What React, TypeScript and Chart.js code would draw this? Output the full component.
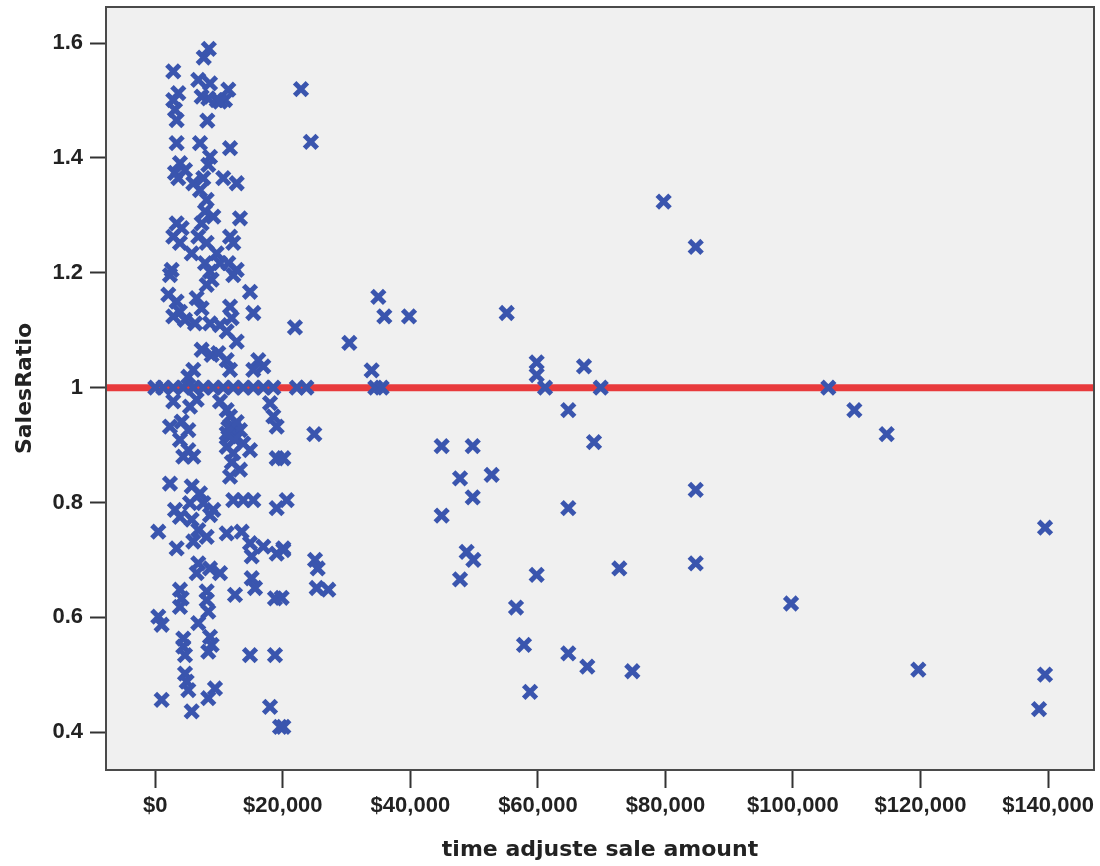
import React, { useEffect, useRef } from 'react';
import { Chart, registerables } from 'chart.js';

Chart.register(...registerables);

// time adjusted sale amount ($) for each sale
const saleAmount: number[] = [
  // sparse sales above $20,000
  22850, 24400, 21900, 30430, 34980, 35920, 39790, 33930, 34500, 35500,
  55110, 59810, 59810, 61120, 67230, 69850, 64770, 68800, 44910, 49780,
  47790, 52750, 49780, 44910, 64770, 24940, 48830, 49880, 47790, 59810,
  72770, 56570, 57820, 64770, 67750, 74810, 58770, 25050, 25470, 25310,
  27130, 79720, 84750, 105550, 109630, 114700, 84750, 139530, 84750, 99700,
  119660, 139530, 138590, 22200, 23700,
  // dense group, upper part
  7600, 8400, 2820, 3610, 2820, 3090, 3350, 6740, 8580, 7270,
  8310, 9630, 11450, 10930, 10150, 8160, 3350, 7010, 11720, 8580,
  8310, 3870, 4660, 3090, 3610, 5960, 7530, 7010, 10660, 12770,
  8060, 7800, 9100, 13280, 7270, 3350, 4140, 2820, 3870, 6740,
  8060, 11720, 12230, 9630, 5710, 10150, 7800, 11450, 2570, 8580, 12770,
  // dense group, middle part
  2300, 8840, 12230, 8060, 14850, 2040, 3350, 6490, 7270, 3870,
  4660, 2820, 6230, 8580, 11720, 11980, 15370, 10150, 11200, 12770,
  7270, 8840, 9880, 11200, 11720, 16150, 16940, 15370, 5960, 5180,
  0, 1250, 2820, 4390, 5960, 7530, 9100, 10660, 12230, 13800,
  15370, 16940, 18510,
  6490, 5440, 10150, 11200, 2820, 17990, 18510, 19040, 11720, 12230,
  11720, 11200, 13280, 13800, 12230, 14850, 2300, 4140, 5180, 3870,
  5180, 5960, 4390, 19040, 20080, 13280, 11720, 2300, 5710, 7010,
  5440, 7530, 3090, 9100, 12230, 13800, 15370, 19040, 20610,
  11450, 12500, 12000, 12770, 11200,
  // dense group, lower part
  470, 3870, 5710, 6740, 8580, 3350, 5960, 8060, 11200, 13550,
  14850, 16940, 19040, 20080, 15120, 6740, 6490, 8580, 10150, 15120,
  15640, 12500, 18770, 3870, 4140, 3870, 8060, 8060, 8310, 470,
  1000, 6740, 4390, 4390, 4660, 8580, 8840, 8310, 14850, 18770,
  4660, 4920, 5180, 9360, 8310, 1000, 5710, 17990, 19560, 20080,
  19820, 20080,
];

// sales ratio for each sale (same order)
const salesRatio: number[] = [
  1.520, 1.428, 1.105, 1.078, 1.158, 1.124, 1.124, 1.030, 1.000, 1.000,
  1.130, 1.044, 1.022, 1.000, 1.037, 1.000, 0.961, 0.905, 0.898, 0.898,
  0.842, 0.848, 0.809, 0.777, 0.790, 0.919, 0.714, 0.700, 0.666, 0.674,
  0.685, 0.617, 0.552, 0.537, 0.514, 0.506, 0.470, 0.700, 0.685, 0.651,
  0.648, 1.324, 1.245, 1.000, 0.961, 0.919, 0.822, 0.756, 0.694, 0.624,
  0.509, 0.500, 0.440, 1.000, 1.000,
  1.575, 1.590, 1.551, 1.513, 1.501, 1.484, 1.466, 1.536, 1.530, 1.507,
  1.504, 1.501, 1.519, 1.501, 1.498, 1.465, 1.426, 1.426, 1.417, 1.402,
  1.388, 1.391, 1.379, 1.374, 1.365, 1.356, 1.365, 1.344, 1.365, 1.356,
  1.327, 1.307, 1.298, 1.295, 1.286, 1.286, 1.278, 1.263, 1.252, 1.263,
  1.252, 1.263, 1.252, 1.234, 1.234, 1.217, 1.217, 1.217, 1.205, 1.202, 1.205,
  1.196, 1.188, 1.196, 1.179, 1.167, 1.162, 1.150, 1.156, 1.138, 1.132,
  1.118, 1.124, 1.112, 1.112, 1.141, 1.121, 1.130, 1.109, 1.098, 1.080,
  1.066, 1.057, 1.060, 1.048, 1.031, 1.048, 1.037, 1.031, 1.031, 1.019,
  1.000, 1.000, 1.000, 1.000, 1.000, 1.000, 1.000, 1.000, 1.000, 1.000,
  1.000, 1.000, 1.000,
  0.979, 0.967, 0.976, 0.961, 0.976, 0.973, 0.950, 0.932, 0.950, 0.932,
  0.915, 0.897, 0.926, 0.903, 0.886, 0.891, 0.932, 0.941, 0.926, 0.909,
  0.891, 0.880, 0.880, 0.877, 0.877, 0.857, 0.845, 0.833, 0.828, 0.816,
  0.799, 0.799, 0.787, 0.787, 0.804, 0.804, 0.804, 0.790, 0.804,
  0.930, 0.910, 0.870, 0.940, 0.920,
  0.749, 0.775, 0.770, 0.752, 0.778, 0.720, 0.732, 0.740, 0.746, 0.749,
  0.729, 0.723, 0.711, 0.720, 0.706, 0.694, 0.677, 0.685, 0.677, 0.668,
  0.651, 0.639, 0.633, 0.648, 0.633, 0.618, 0.645, 0.630, 0.610, 0.601,
  0.587, 0.590, 0.563, 0.549, 0.534, 0.566, 0.552, 0.540, 0.534, 0.534,
  0.502, 0.488, 0.473, 0.476, 0.459, 0.456, 0.436, 0.444, 0.409, 0.409,
  0.634, 0.717,
];

const xTickValues: number[] = [0, 20000, 40000, 60000, 80000, 100000, 120000, 140000];
const yTickValues: number[] = [0.4, 0.6, 0.8, 1, 1.2, 1.4, 1.6];
const referenceRatio = 1;

const X_MIN = -7730;
const X_MAX = 147210;
const Y_MIN = 0.334;
const Y_MAX = 1.663;

const tickFont = {
  family: "'Liberation Sans', Arial, sans-serif",
  size: 22,
  weight: 'bold' as const,
};
const titleFont = {
  family: "'DejaVu Sans', Verdana, sans-serif",
  size: 22,
  weight: 'bold' as const,
};

const framePlugin = {
  id: 'frame',
  beforeDraw(chart: any) {
    const { ctx, chartArea: a } = chart;
    ctx.save();
    ctx.fillStyle = '#ffffff';
    ctx.fillRect(0, 0, chart.width, chart.height);
    ctx.fillStyle = '#f0f0f0';
    ctx.fillRect(a.left, a.top, a.right - a.left, a.bottom - a.top);
    ctx.restore();
  },
  afterDraw(chart: any) {
    const { ctx, chartArea: a } = chart;
    ctx.save();
    ctx.strokeStyle = '#4a4a4a';
    ctx.lineWidth = 2;
    ctx.strokeRect(a.left, a.top, a.right - a.left, a.bottom - a.top);
    ctx.restore();
  },
};

export default function App() {
  const canvasRef = useRef<HTMLCanvasElement | null>(null);

  useEffect(() => {
    const canvas = canvasRef.current;
    if (!canvas) return;
    const points = saleAmount.map((x, i) => ({ x, y: salesRatio[i] }));
    const chart = new Chart(canvas, {
      type: 'scatter',
      data: {
        datasets: [
          {
            label: 'SalesRatio',
            data: points,
            pointStyle: 'crossRot',
            pointRadius: 9,
            pointHoverRadius: 9,
            borderColor: '#3a55ae',
            backgroundColor: '#3a55ae',
            pointBorderWidth: 5,
            order: 1,
          },
          {
            type: 'line',
            label: 'Reference',
            data: [
              { x: X_MIN, y: referenceRatio },
              { x: X_MAX, y: referenceRatio },
            ],
            borderColor: '#e83a3c',
            borderWidth: 7,
            pointRadius: 0,
            fill: false,
            order: 2,
          } as any,
        ],
      },
      options: {
        responsive: false,
        maintainAspectRatio: false,
        animation: false,
        events: [],
        layout: { autoPadding: false, padding: { left: 0, right: 6, top: 7, bottom: 0 } },
        plugins: {
          legend: { display: false },
          tooltip: { enabled: false },
          title: { display: false },
        },
        scales: {
          x: {
            type: 'linear',
            min: X_MIN,
            max: X_MAX,
            afterBuildTicks: (scale: any) => {
              scale.ticks = xTickValues.map((value) => ({ value }));
            },
            afterFit: (scale: any) => {
              scale.height = 96;
              scale.paddingLeft = 0;
              scale.paddingRight = 0;
            },
            grid: {
              display: true,
              drawOnChartArea: false,
              drawTicks: true,
              tickLength: 18,
              tickColor: '#333333',
              tickWidth: 2,
            },
            border: { display: true, color: '#4a4a4a', width: 2 },
            ticks: {
              color: '#222222',
              font: tickFont,
              padding: 5,
              maxRotation: 0,
              autoSkip: false,
              callback: (v: any) => '$' + Number(v).toLocaleString('en-US'),
            },
            title: {
              display: true,
              text: 'time adjuste sale amount',
              color: '#222222',
              font: titleFont,
              padding: { top: 0, bottom: 3 },
            },
          },
          y: {
            type: 'linear',
            min: Y_MIN,
            max: Y_MAX,
            afterBuildTicks: (scale: any) => {
              scale.ticks = yTickValues.map((value) => ({ value }));
            },
            afterFit: (scale: any) => {
              scale.width = 106;
              scale.paddingTop = 0;
              scale.paddingBottom = 0;
            },
            grid: {
              display: true,
              drawOnChartArea: false,
              drawTicks: true,
              tickLength: 16,
              tickColor: '#333333',
              tickWidth: 2,
            },
            border: { display: true, color: '#4a4a4a', width: 2 },
            ticks: {
              color: '#222222',
              font: tickFont,
              padding: 7,
              autoSkip: false,
              callback: (v: any) => String(v),
            },
            title: {
              display: true,
              text: 'SalesRatio',
              color: '#222222',
              font: titleFont,
              padding: { top: 12, bottom: 0 },
            },
          },
        },
      },
      plugins: [framePlugin],
    });
    return () => chart.destroy();
  }, []);

  return (
    <div style={{ position: 'absolute', left: 0, top: 0, width: 1100, height: 866 }}>
      <canvas ref={canvasRef} width={1100} height={866} />
    </div>
  );
}
